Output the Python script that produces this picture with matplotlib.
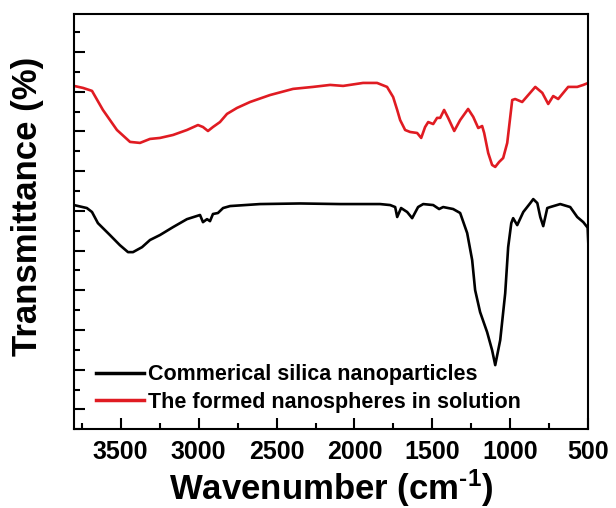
import matplotlib
matplotlib.use("Agg")
import matplotlib.pyplot as plt
from matplotlib.ticker import MultipleLocator, NullFormatter

plt.rcParams['font.family'] = ['Liberation Sans', 'DejaVu Sans']
plt.rcParams['font.weight'] = 'bold'
plt.rcParams['mathtext.fontset'] = 'custom'
plt.rcParams['mathtext.rm'] = 'Liberation Sans:bold'
plt.rcParams['mathtext.it'] = 'Liberation Sans:bold'
plt.rcParams['mathtext.bf'] = 'Liberation Sans:bold'

# Commercial silica nanoparticles (black)
wn_black = [3800, 3717, 3684, 3646, 3569, 3505, 3453, 3421, 3363, 3312, 3248, 3164,
            3075, 2991, 2972, 2946, 2927, 2908, 2876, 2843, 2798, 2606, 2349, 2092,
            1836, 1771, 1739, 1726, 1701, 1662, 1630, 1592, 1559, 1495, 1457, 1431,
            1367, 1322, 1277, 1245, 1226, 1194, 1149, 1117, 1097, 1065, 1033, 1014,
            994, 982, 956, 917, 872, 853, 827, 808, 789, 763, 744, 680, 616, 571,
            532, 504, 500]
t_black = [11.29, 11.14, 10.94, 10.38, 9.78, 9.27, 8.92, 8.92, 9.17, 9.53, 9.78, 10.18,
           10.58, 10.79, 10.43, 10.58, 10.48, 10.84, 10.89, 11.14, 11.24, 11.34, 11.37, 11.34,
           11.34, 11.29, 11.19, 10.69, 11.14, 10.94, 10.63, 11.19, 11.34, 11.29, 11.09, 11.19,
           11.09, 10.89, 9.88, 8.52, 7.01, 5.90, 4.89, 3.98, 3.23, 4.49, 6.85, 9.17,
           10.38, 10.63, 10.28, 10.94, 11.39, 11.59, 11.39, 10.69, 10.23, 11.14, 11.19, 11.34, 11.19, 10.69,
           10.43, 10.15, 9.40]

# Formed nanospheres in solution (red)
wn_red = [3800, 3742, 3684, 3614, 3524, 3440, 3376, 3312, 3248, 3164, 3075, 3004,
          2972, 2940, 2908, 2863, 2818, 2754, 2670, 2542, 2394, 2266, 2156, 2073,
          1945, 1855, 1791, 1752, 1726, 1707, 1675, 1643, 1598, 1572, 1547, 1527,
          1495, 1470, 1450, 1425, 1399, 1360, 1322, 1271, 1238, 1206, 1181, 1168,
          1142, 1117, 1097, 1072, 1046, 1020, 988, 969, 924, 840, 795, 757, 725,
          693, 629, 571, 532, 500]
t_red = [17.29, 17.19, 17.04, 16.08, 15.07, 14.47, 14.42, 14.62, 14.67, 14.82, 15.07, 15.32,
         15.22, 15.02, 15.22, 15.47, 15.88, 16.18, 16.48, 16.83, 17.14, 17.24, 17.34, 17.29,
         17.44, 17.44, 17.24, 16.73, 16.08, 15.57, 15.07, 14.97, 14.92, 14.67, 15.22, 15.47,
         15.37, 15.68, 15.68, 16.08, 15.68, 15.02, 15.57, 16.13, 15.73, 15.17, 15.27, 14.92,
         13.91, 13.31, 13.21, 13.46, 13.66, 14.42, 16.58, 16.63, 16.48, 17.24, 16.94, 16.38, 16.78,
         16.63, 17.24, 17.24, 17.34, 17.44]

labels = ["Commerical silica nanoparticles", "The formed nanospheres in solution"]
x_ticks = [3500, 3000, 2500, 2000, 1500, 1000, 500]

fig = plt.figure(figsize=(6.16, 5.08), dpi=100)
ax = fig.add_axes([0.12, 0.155, 0.835, 0.817])

ax.plot(wn_black, t_black, color='black', lw=1.9, label=labels[0])
ax.plot(wn_red, t_red, color='#e01b22', lw=1.9, label=labels[1])

ax.set_xlim(3800, 500)
ax.set_ylim(0, 20.9)
ax.set_xticks(x_ticks)
ax.set_xticklabels([str(v) for v in x_ticks])
ax.xaxis.set_minor_locator(MultipleLocator(250))
ax.yaxis.set_major_locator(MultipleLocator(2, offset=1))
ax.yaxis.set_minor_locator(MultipleLocator(1))
ax.yaxis.set_major_formatter(NullFormatter())
ax.tick_params(axis='both', which='both', direction='in', top=False, right=False, width=1.5)
ax.tick_params(axis='both', which='major', length=8)
ax.tick_params(axis='both', which='minor', length=4)
ax.tick_params(axis='x', labelsize=18, pad=8)
for s in ax.spines.values():
    s.set_linewidth(1.5)

ax.set_xlabel(r'Wavenumber (cm$^{\text{-}1}$)', fontsize=25, fontweight='bold', labelpad=2)
ax.set_ylabel('Transmittance (%)', fontsize=25, fontweight='bold')
ax.yaxis.set_label_coords(-0.058, 0.537)

leg = ax.legend(loc='lower left', frameon=False, fontsize=15.5, handlelength=2.2,
                handletextpad=0.2, labelspacing=0.3, bbox_to_anchor=(0.006, -0.007))
for line in leg.get_lines():
    line.set_linewidth(2.5)

fig.savefig('out.png', dpi=100)
